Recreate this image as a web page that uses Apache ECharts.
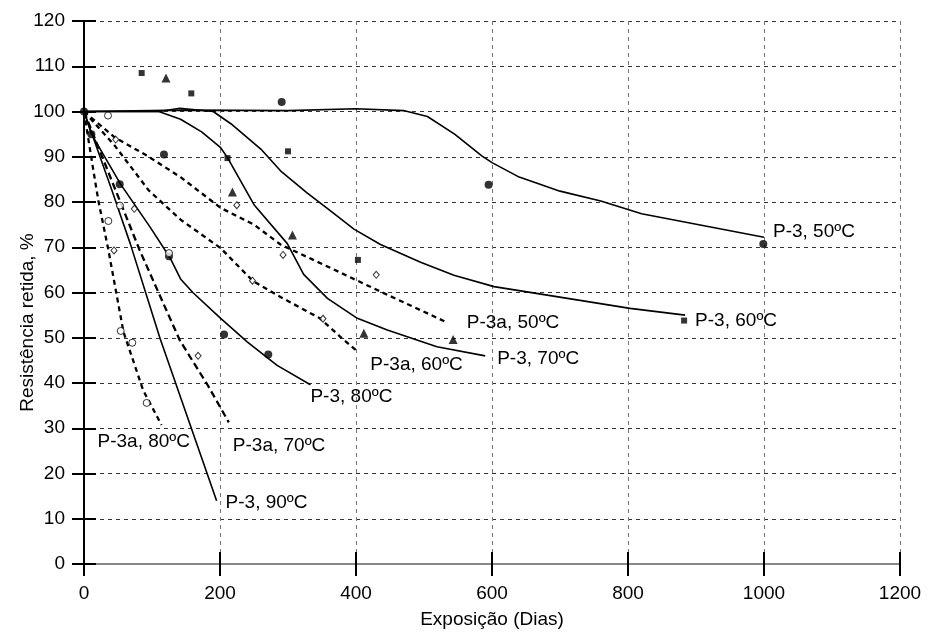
<!DOCTYPE html>
<html>
<head>
<meta charset="utf-8">
<script src="https://cdn.jsdelivr.net/npm/echarts@6/dist/echarts.min.js"></script>
<style>
html,body{margin:0;padding:0;background:#fff;}
#chart{width:938px;height:632px;}
</style>
</head>
<body>
<div id="chart"></div>
<script>
// ---- Data (x = days, y = retained strength %) ----
const xTicks = [0, 200, 400, 600, 800, 1000, 1200];
const yTicks = [0, 10, 20, 30, 40, 50, 60, 70, 80, 90, 100, 110, 120];

// Fitted curves
const p3_50 = [[0,100],[150,100.3],[300,100.2],[400,100.6],[470,100.2],[505,98.9],[545,95],[585,90.2],[600,88.7],[640,85.5],[700,82.4],[760,80.2],[820,77.4],[1000,72.2]];
const p3_60 = [[0,100],[110,100],[141,100.7],[190,100],[216,97.3],[260,91.7],[289,86.9],[328,82],[363,78],[397,74],[436,70.6],[495,66.7],[544,63.8],[603,61.3],[803,56.5],[884,55]];
const p3_70 = [[0,100],[110,100],[142,98.3],[173,95.5],[201,92],[211,89.8],[250,79.4],[299,70.8],[323,64],[358,58.7],[402,54.3],[446,51.7],[519,48],[590,46]];
const p3_80 = [[0,100],[11,95],[54,83.9],[97,74.5],[126,67.8],[142,63],[160,60],[201,54.3],[240,49.1],[284,43.9],[333,39.6]];
const p3_90 = [[0,100],[41,82.6],[68,70.8],[112,49.8],[195,14]];
const p3a_50 = [[0,100],[45,94.3],[93,90.2],[142,85.5],[201,78.7],[250,75],[289,70.6],[363,65.4],[436,60.2],[535,53.3]];
const p3a_60 = [[0,100],[45,92.5],[95,82.6],[121,79],[142,76.1],[201,69.8],[248,62.6],[289,59],[347,54.3],[377,50.2],[402,47]];
const p3a_70 = [[0,100],[82,69.3],[141,49.4],[182,39.5],[213,31.3]];
const p3a_80 = [[0,100],[6,94.3],[13,87.7],[21,80.4],[36,69.3],[58,51.3],[87,38.4],[114,30.7]];

// Curve labels
const curveNames = ["P-3, 50ºC","P-3, 60ºC","P-3, 70ºC","P-3, 80ºC","P-3, 90ºC","P-3a, 50ºC","P-3a, 60ºC","P-3a, 70ºC","P-3a, 80ºC"];

// Measured points
const filledCircles = [[0,100],[10.8,95],[52.5,83.9],[117.6,90.5],[125,68],[206,50.7],[271,46.3],[290.7,102.1],[595,83.8],[999,70.7]];
const filledSquares = [[84.8,108.5],[157.8,104],[211,89.7],[300,91.2],[402.8,67.2],[882.5,53.8]];
const filledTriangles = [[120.6,107.4],[218.3,82.2],[306.5,72.7],[411.6,51],[542.8,49.6]];
const openCircles = [[35.3,99.1],[35.8,75.8],[52.9,79.2],[54,51.5],[71,48.9],[92.2,35.6],[125,68.7]];
const openDiamonds = [[46.6,93.8],[44.1,69.3],[74,78.5],[224.7,79.3],[292.7,68.3],[247.7,62.6],[351.4,54.2],[429.8,63.9],[167.8,46]];

// ---- Chart ----
const FONT = '"Liberation Sans", Arial, sans-serif';
const FS = 19;
const chart = echarts.init(document.getElementById('chart'), null, {renderer:'canvas'});

const curves = [p3_50,p3_60,p3_70,p3_80,p3_90,p3a_50,p3a_60,p3a_70,p3a_80];
const dashed = [false,false,false,false,false,true,true,true,true];
const labelOffsets = [[9,-6],[10,6],[12,3],[0,12],[9,2],[19,0],[13,13],[4,23],[-64,17]];

const series = curves.map((d,i)=>({
  type:'line', name:curveNames[i], data:d, xAxisIndex:0, yAxisIndex:0,
  showSymbol:false, symbol:'none', silent:true, z:3,
  lineStyle:{color:'#000', width: dashed[i]?2.3:1.6, type: dashed[i]?(i===7?[7,4]:[5,4]):'solid'},
  endLabel:{show:true, formatter:curveNames[i], color:'#000', fontFamily:FONT, fontSize:FS,
    distance:0, offset:labelOffsets[i], align:'left', verticalAlign:'middle'}
}));

function scat(data, symbol, size, filled){
  return {type:'scatter', data:data, symbol:symbol, symbolSize:size, z:5, xAxisIndex:0, yAxisIndex:0,
    itemStyle:{color: filled?'#000':'#fff', borderColor:'#000', borderWidth: filled?0:1}};
}
series.push(scat(filledCircles,'circle',8,true));
series.push(scat(filledSquares,'rect',6,true));
series.push(scat(filledTriangles,'triangle',9,true));
series.push(scat(openCircles,'circle',7,false));
series.push(scat(openDiamonds,'diamond',[6,7],false));

const axisFont = {color:'#000', fontFamily:FONT, fontSize:FS};
const plain = v => String(v);
chart.setOption({
  animation:false,
  backgroundColor:'#fff',
  grid:{left:84, right:38, top:21, bottom:68, containLabel:false, outerBoundsMode:'none'},
  xAxis:[
    {type:'value', min:xTicks[0], max:xTicks[xTicks.length-1], interval:200, position:'bottom',
     name:'Exposição (Dias)', nameLocation:'middle', nameGap:46, nameMoveOverlap:false, nameTextStyle:axisFont,
     axisLine:{lineStyle:{color:'#000', width:2}},
     axisTick:{show:true, length:12, lineStyle:{color:'#000', width:2}},
     axisLabel:Object.assign({margin:20, formatter:plain}, axisFont),
     splitLine:{show:true, lineStyle:{color:'#777', type:[4,4], width:1}}},
    {type:'value', min:xTicks[0], max:xTicks[xTicks.length-1], interval:200, position:'bottom',
     axisLine:{show:false}, axisTick:{show:true, inside:true, length:12, lineStyle:{color:'#000', width:2}},
     axisLabel:{show:false}, splitLine:{show:false}},
    {type:'value', min:xTicks[0], max:xTicks[xTicks.length-1], interval:200, position:'top',
     axisLine:{show:true, lineStyle:{color:'#888', width:2}}, axisTick:{show:false},
     axisLabel:{show:false}, splitLine:{show:false}}
  ],
  yAxis:[
    {type:'value', min:yTicks[0], max:yTicks[yTicks.length-1], interval:10, position:'left',
     name:'Resistência retida, %', nameLocation:'middle', nameGap:47, nameMoveOverlap:false,
     nameTextStyle:Object.assign({padding:[0,60,0,0]}, axisFont),
     axisLine:{lineStyle:{color:'#000', width:2}},
     axisTick:{show:true, length:12, lineStyle:{color:'#000', width:2}},
     axisLabel:Object.assign({margin:19, formatter:plain}, axisFont),
     splitLine:{show:true, lineStyle:{color:'#333', type:[4,4], width:1}}},
    {type:'value', min:yTicks[0], max:yTicks[yTicks.length-1], interval:10, position:'left',
     axisLine:{show:false}, axisTick:{show:true, inside:true, length:12, lineStyle:{color:'#000', width:2}},
     axisLabel:{show:false}, splitLine:{show:false}},
    {type:'value', min:yTicks[0], max:yTicks[yTicks.length-1], interval:10, position:'right',
     axisLine:{show:true, lineStyle:{color:'#000', width:1.5}}, axisTick:{show:false},
     axisLabel:{show:false}, splitLine:{show:false}}
  ],
  series:series
});
</script>
</body>
</html>
